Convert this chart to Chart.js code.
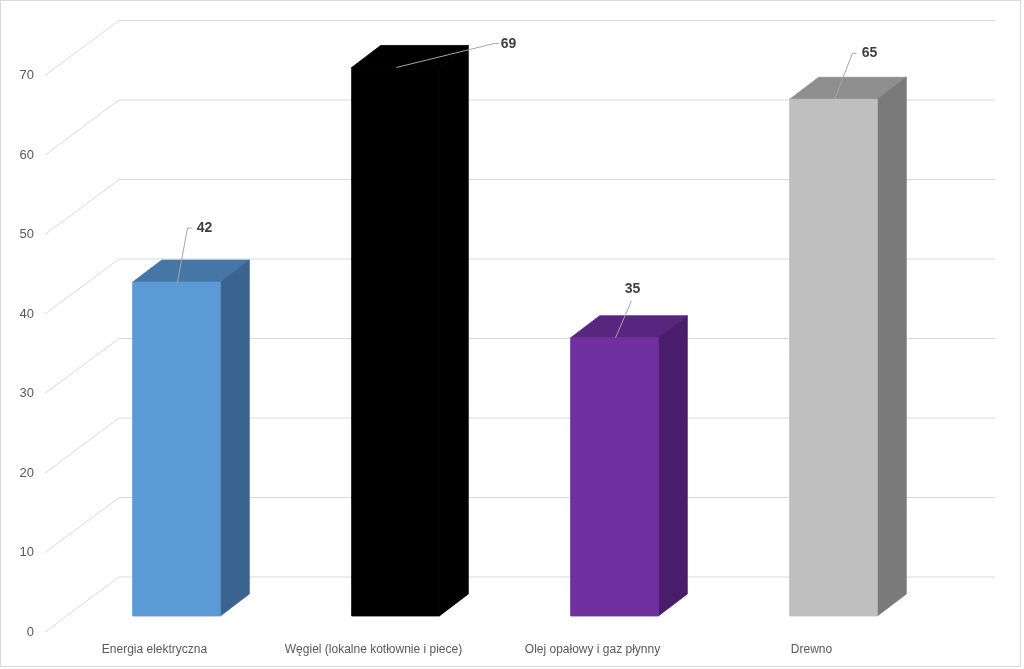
<!DOCTYPE html>
<html>
<head>
<meta charset="utf-8">
<script src="https://cdn.jsdelivr.net/npm/chart.js@4/dist/chart.umd.min.js"></script>
<style>
  html, body { margin: 0; padding: 0; background: #ffffff; }
  #wrap { width: 1024px; height: 669px; position: relative; }
</style>
</head>
<body>
<div id="wrap"><canvas id="heatChart"></canvas></div>
<script>
const categories = ["Energia elektryczna", "Węgiel (lokalne kotłownie i piece)", "Olej opałowy i gaz płynny", "Drewno"];
const values = [42, 69, 35, 65];
const yTicks = [0, 10, 20, 30, 40, 50, 60, 70];

// colours per bar: front, top, side
const frontColors = ["#5B9BD5", "#000000", "#7030A0", "#BFBFBF"];
const topColors = ["#4676A6", "#000000", "#58257F", "#8E8E8E"];
const sideColors = ["#3B6590", "#000000", "#4A1D6C", "#7A7A7A"];

// where each data label sits, relative to the front top centre of its bar
const labelText = [[28, -54], [113, -23], [18, -49], [36, -46]];
const labelLeader = [[11, -54, 4], [99, -24, 4], [17, -37, 0], [19, -46, 4]];

const DEPTH_X = 29, DEPTH_Y = -22;

function face(ctx, pts, color) {
    ctx.fillStyle = color;
    ctx.strokeStyle = color;
    ctx.lineWidth = 0.8;
    ctx.beginPath();
    ctx.moveTo(pts[0][0], pts[0][1]);
    for (let k = 1; k < pts.length; k++) ctx.lineTo(pts[k][0], pts[k][1]);
    ctx.closePath();
    ctx.fill();
    ctx.stroke();
}

const threeDPlugin = {
    id: "threeD",
    beforeDatasetsDraw(chart) {
        const ctx = chart.ctx;
        const y = chart.scales.y;
        ctx.save();
        ctx.strokeStyle = "#D9D9D9";
        ctx.lineWidth = 1;
        ctx.font = "13px 'Liberation Sans', Arial, sans-serif";
        ctx.fillStyle = "#595959";
        ctx.textAlign = "right";
        ctx.textBaseline = "middle";
        yTicks.forEach(function (t) {
            const p = y.getPixelForValue(t);
            ctx.beginPath();
            ctx.moveTo(45, p + 16);
            ctx.lineTo(119, p - 39);
            ctx.lineTo(995, p - 39);
            ctx.stroke();
            ctx.fillText(String(t), 34, p + 16);
        });
        ctx.restore();
    },
    afterDatasetsDraw(chart) {
        const ctx = chart.ctx;
        const meta = chart.getDatasetMeta(0);
        ctx.save();
        meta.data.forEach(function (bar, i) {
            const l = bar.x - bar.width / 2;
            const r = bar.x + bar.width / 2;
            const t = bar.y;
            const b = bar.base;
            face(ctx, [[l, t], [l + DEPTH_X, t + DEPTH_Y], [r + DEPTH_X, t + DEPTH_Y], [r, t]], topColors[i]);
            face(ctx, [[r, t], [r + DEPTH_X, t + DEPTH_Y], [r + DEPTH_X, b + DEPTH_Y], [r, b]], sideColors[i]);
            // redraw the front face on top so the seams stay closed
            face(ctx, [[l, t], [r, t], [r, b], [l, b]], frontColors[i]);
        });

        // leader lines and value labels
        meta.data.forEach(function (bar, i) {
            const lx = bar.x + labelLeader[i][0];
            const ly = bar.y + labelLeader[i][1];
            ctx.strokeStyle = "#A6A6A6";
            ctx.lineWidth = 1;
            ctx.beginPath();
            ctx.moveTo(bar.x + 1, bar.y);
            ctx.lineTo(lx, ly);
            if (labelLeader[i][2]) ctx.lineTo(lx + labelLeader[i][2], ly);
            ctx.stroke();
            ctx.fillStyle = "#404040";
            ctx.font = "bold 14px 'Liberation Sans', Arial, sans-serif";
            ctx.textAlign = "center";
            ctx.textBaseline = "middle";
            ctx.fillText(String(values[i]), bar.x + labelText[i][0], bar.y + labelText[i][1]);
        });

        // category labels on the front plane
        ctx.fillStyle = "#595959";
        ctx.font = "12px 'Liberation Sans', Arial, sans-serif";
        ctx.textAlign = "center";
        ctx.textBaseline = "middle";
        meta.data.forEach(function (bar, i) {
            ctx.fillText(categories[i], bar.x - 22, 650);
        });

        // outer border
        ctx.strokeStyle = "#D9D9D9";
        ctx.lineWidth = 1;
        ctx.strokeRect(0.5, 0.5, 1020, 666);
        ctx.restore();
    }
};

document.addEventListener("DOMContentLoaded", function () {
    const canvas = document.getElementById("heatChart");
    new Chart(canvas, {
        type: "bar",
        data: {
            labels: categories,
            datasets: [{
                data: values,
                backgroundColor: frontColors,
                borderWidth: 0,
                barPercentage: 0.4,
                categoryPercentage: 1.0,
            }],
        },
        options: {
            responsive: true,
            maintainAspectRatio: false,
            animation: false,
            layout: { padding: { left: 67, right: 81, top: 59.5, bottom: 53 } },
            plugins: { legend: { display: false }, tooltip: { enabled: false } },
            scales: {
                x: { display: false },
                y: { display: false, min: 0, max: 70 },
            },
        },
        plugins: [threeDPlugin],
    });
});
</script>
</body>
</html>
